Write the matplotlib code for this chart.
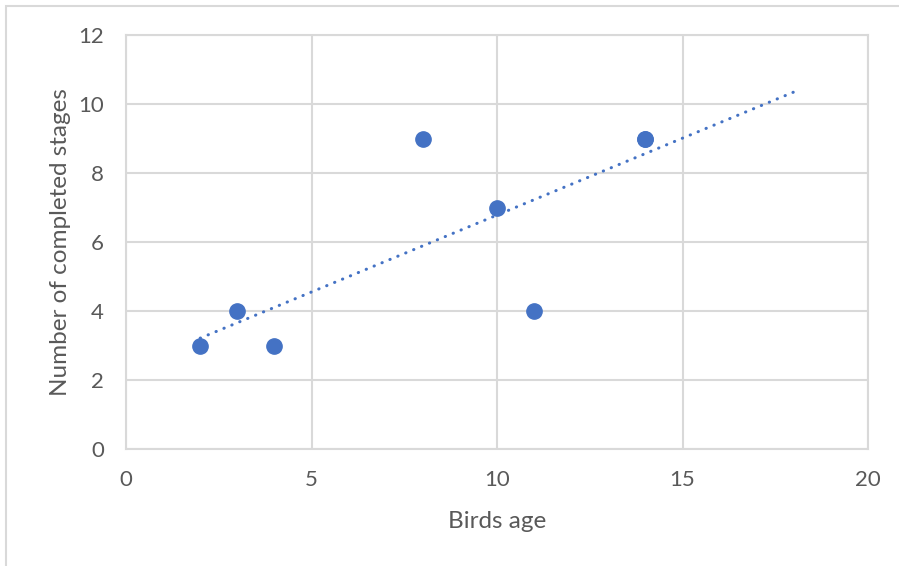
import matplotlib
matplotlib.use("Agg")
import matplotlib.pyplot as plt
from matplotlib.patches import Rectangle
import numpy as np

plt.rcParams['font.family'] = ['Lato', 'DejaVu Sans']

# birds age vs completed stages (14 -> 9 appears twice)
age = np.array([2, 3, 4, 8, 10, 11, 14, 14])
stages = np.array([3, 4, 3, 9, 7, 4, 9, 9])
forecast_forward = 4

blue = '#4472C4'
grid_c = '#d9d9d9'
text_c = '#595959'

fig = plt.figure(figsize=(8.99, 5.66), dpi=100)
ax = fig.add_axes([126 / 899, 1 - 449 / 566, 742 / 899, 414 / 566])

# outer chart frame
fig.patches.append(Rectangle((6 / 899, -0.1), 1.2, 1 - 6 / 566 + 0.1,
                             transform=fig.transFigure, fill=False,
                             edgecolor=grid_c, linewidth=1.5))

# linear trend line, extended forward
slope, intercept = np.polyfit(age, stages, 1)
xt = np.linspace(age.min(), age.max() + forecast_forward, 100)
ax.plot(xt, slope * xt + intercept, linestyle=(0, (0.1, 2.7)), color=blue,
        linewidth=2.2, dash_capstyle='round', zorder=2)

ax.plot(age, stages, 'o', color=blue, markersize=11, zorder=3)

ax.set_xlim(0, 20)
ax.set_ylim(0, 12)
ax.set_xticks(np.arange(0, 21, 5))
ax.set_yticks(np.arange(0, 13, 2))
ax.grid(True, color=grid_c, linewidth=1.5)
ax.set_axisbelow(True)
for s in ax.spines.values():
    s.set_color(grid_c)
    s.set_linewidth(1.5)
ax.tick_params(length=0, labelsize=16, labelcolor=text_c)
ax.tick_params(axis='y', pad=16)
ax.tick_params(axis='x', pad=15)

ax.set_xlabel('Birds age', fontsize=17.5, color=text_c, labelpad=15)
ax.set_ylabel('Number of completed stages', fontsize=17.5, color=text_c, labelpad=5)

fig.savefig('out.png', dpi=100)
